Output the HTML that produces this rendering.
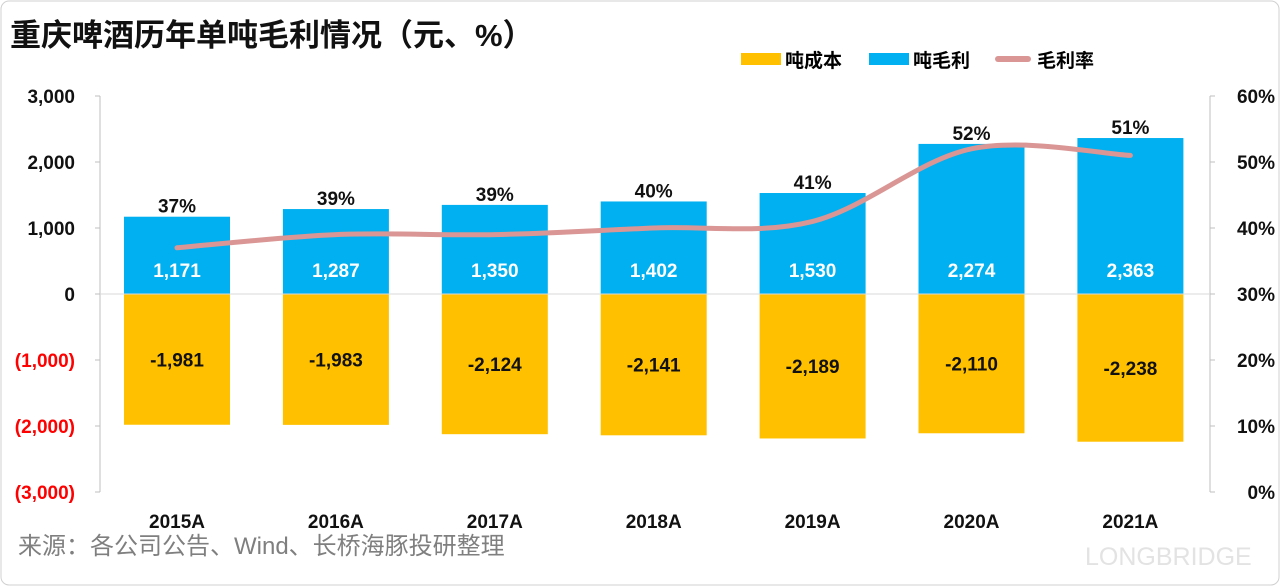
<!DOCTYPE html>
<html><head><meta charset="utf-8"><style>
body{margin:0;background:#fff;}
svg{display:block;font-family:"Liberation Sans","Noto Sans CJK SC",sans-serif;}
</style></head><body>
<svg id="c" width="1280" height="586">
<rect x="1" y="1" width="1278" height="584" rx="8" fill="#fff" stroke="#d0d0d0"/>
<text x="10" y="46" font-size="31" font-weight="bold" fill="#111">重庆啤酒历年单吨毛利情况（元、%）</text>
<g>
<rect x="741" y="53" width="40" height="12" fill="#FFC000"/>
<text x="785" y="67" font-size="19" font-weight="bold">吨成本</text>
<rect x="869" y="53" width="40" height="12" fill="#00B0F0"/>
<text x="913" y="67" font-size="19" font-weight="bold">吨毛利</text>
<line x1="998" y1="59" x2="1028" y2="59" stroke="#D99694" stroke-width="6" stroke-linecap="round"/>
<text x="1037" y="67" font-size="19" font-weight="bold">毛利率</text>
</g>
<text x="18" y="554" font-size="24" fill="#7f7f7f">来源：各公司公告、Wind、长桥海豚投研整理</text>
<text x="1085" y="565" font-size="25" fill="#e3e3e3">LONGBRIDGE</text>
<g id="plot"></g>
</svg>
<script>
const categories=["2015A","2016A","2017A","2018A","2019A","2020A","2021A"];
const profitValues=[1171,1287,1350,1402,1530,2274,2363];
const costValues=[-1981,-1983,-2124,-2141,-2189,-2110,-2238];
const marginValues=[37,39,39,40,41,52,51];
const leftTicks=[3000,2000,1000,0,-1000,-2000,-3000];
const leftTickLabels=["3,000","2,000","1,000","0","(1,000)","(2,000)","(3,000)"];
const rightTicks=[60,50,40,30,20,10,0];

const NS="http://www.w3.org/2000/svg";
const g=document.getElementById('plot');
const yL=v=>294-v*0.066;
const yR=v=>492-v*6.6;
const xC=i=>177+i*158.9;
const bw=106;
function mk(t,a,txt){const e=document.createElementNS(NS,t);for(const k in a)e.setAttribute(k,a[k]);if(txt!=null)e.textContent=txt;g.appendChild(e);return e;}
const fmt=v=>(v<0?"-":"")+Math.abs(v).toLocaleString('en-US');

const ax=mk('line',{x1:100,y1:96,x2:100,y2:492,stroke:'#bfbfbf'});


const ax2=mk('line',{x1:1210,y1:96,x2:1210,y2:492,stroke:'#bfbfbf'});


leftTicks.forEach((v,i)=>{
  const t=mk('text',{x:75,y:yL(v)+7,'font-size':19,'font-weight':'bold','text-anchor':'end',fill:v<0?'#FF0000':'#111'},leftTickLabels[i]);
  
  
  const k=mk('line',{x1:95,y1:yL(v),x2:100,y2:yL(v),stroke:'#bfbfbf'});
  
  
});
rightTicks.forEach(v=>{
  const t=mk('text',{x:1275,y:yR(v)+7,'font-size':19,'font-weight':'bold','text-anchor':'end',fill:'#111'},v+'%');
  
  
  const k=mk('line',{x1:1210,y1:yR(v),x2:1215,y2:yR(v),stroke:'#bfbfbf'});
  
  
});
categories.forEach((c,i)=>{
  const x=xC(i);
  const pb=mk('rect',{x:x-bw/2,y:yL(profitValues[i]),width:bw,height:yL(0)-yL(profitValues[i]),fill:'#00B0F0'});
  
  
  const cb=mk('rect',{x:x-bw/2,y:yL(0),width:bw,height:yL(costValues[i])-yL(0),fill:'#FFC000'});
  
  
  const pl=mk('text',{x:x,y:yL(0)-17,'font-size':19,'font-weight':'bold','text-anchor':'middle',fill:'#fff'},fmt(profitValues[i]));
  
  
  const cl=mk('text',{x:x,y:(yL(0)+yL(costValues[i]))/2+7,'font-size':19,'font-weight':'bold','text-anchor':'middle',fill:'#111'},fmt(costValues[i]));
  
  
  const ml=mk('text',{x:x,y:yL(profitValues[i])-4,'font-size':19,'font-weight':'bold','text-anchor':'middle',fill:'#111'},marginValues[i]+'%');
  
  
  const xl=mk('text',{x:x,y:528,'font-size':19,'font-weight':'bold','text-anchor':'middle',fill:'#111'},c);
  
  
});
const zl=mk('line',{x1:100,y1:yL(0),x2:1210,y2:yL(0),stroke:'#d9d9d9'});


const pts=marginValues.map((v,i)=>[xC(i),yR(v)]);
let d='M'+pts[0][0]+','+pts[0][1];
for(let i=0;i<pts.length-1;i++){
  const p0=pts[i-1]||pts[i],p1=pts[i],p2=pts[i+1],p3=pts[i+2]||p2;
  const c1=[p1[0]+(p2[0]-p0[0])/6,p1[1]+(p2[1]-p0[1])/6];
  const c2=[p2[0]-(p3[0]-p1[0])/6,p2[1]-(p3[1]-p1[1])/6];
  d+=` C${c1[0]},${c1[1]} ${c2[0]},${c2[1]} ${p2[0]},${p2[1]}`;
}
const ln=mk('path',{d:d,fill:'none',stroke:'#D99694','stroke-width':5,'stroke-linecap':'round'});


</script>
</body></html>
